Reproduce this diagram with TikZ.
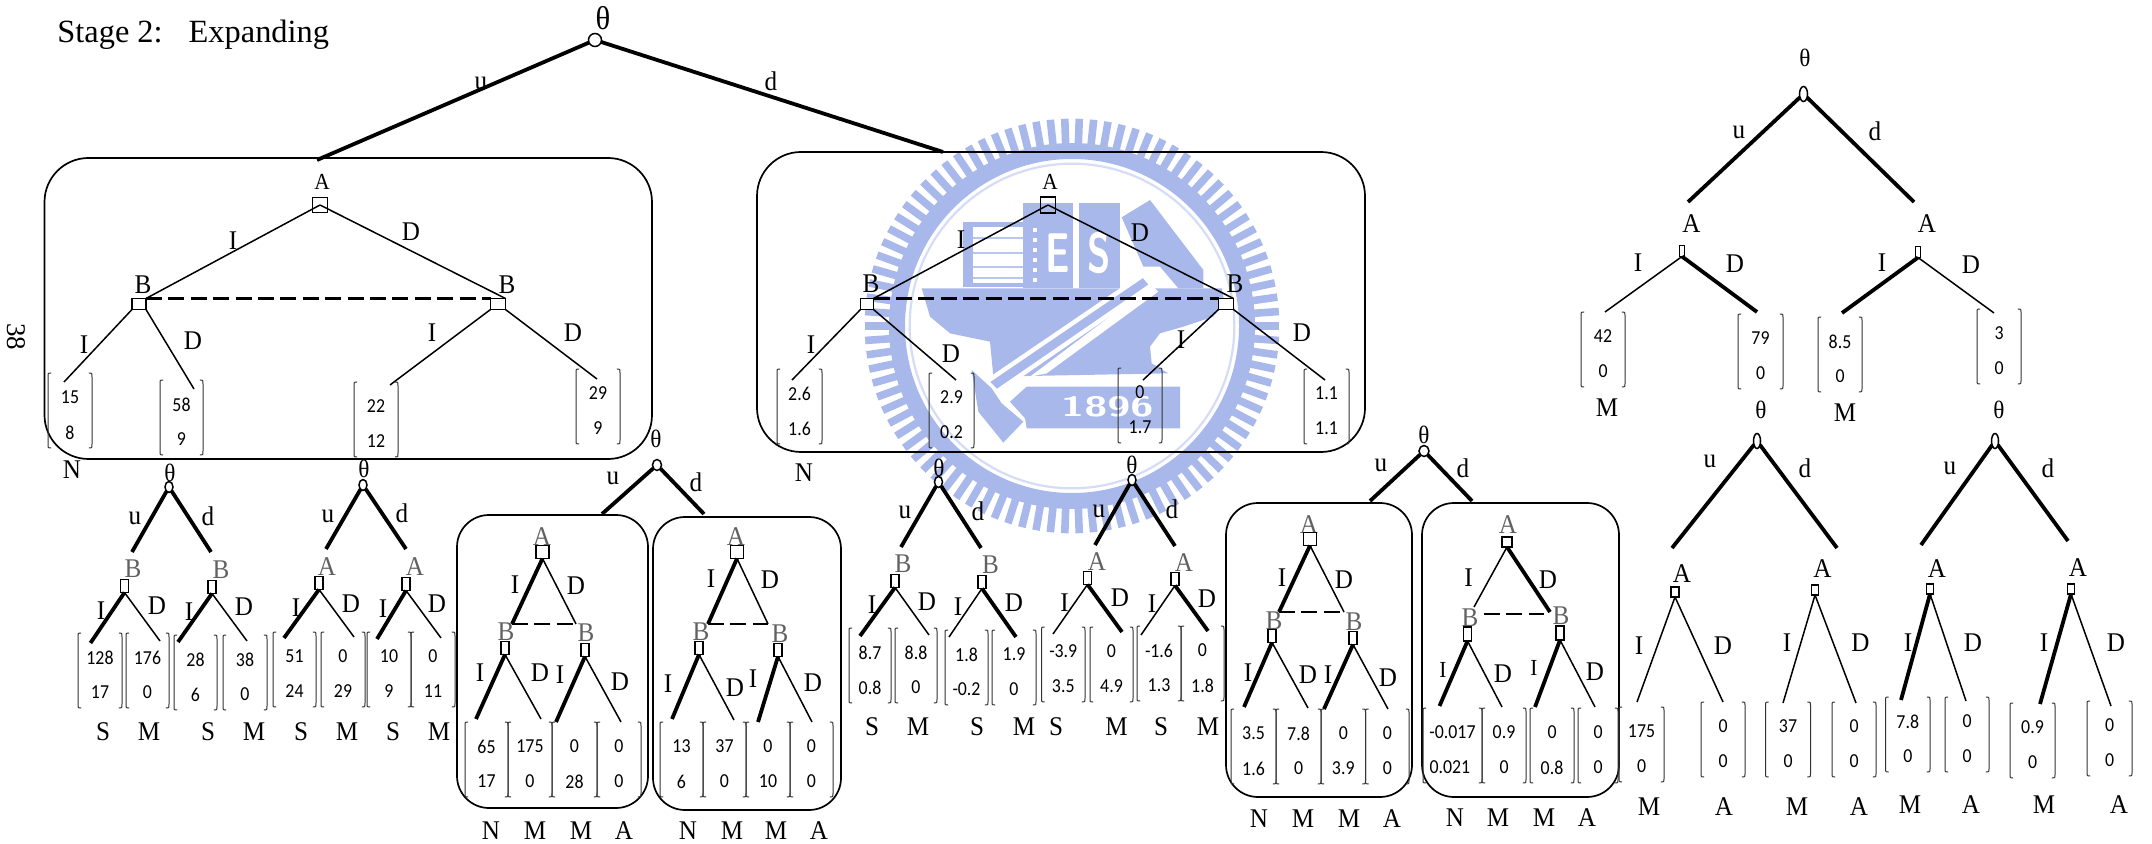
\documentclass[tikz,border=0pt]{standalone}
\usepackage{fontspec}
\setmainfont{Liberation Serif}
\newfontfamily\numfont{Carlito}
\usetikzlibrary{shapes.geometric}
\definecolor{wm}{HTML}{A9B8EA}
\definecolor{wmpale}{HTML}{D5DCF5}
\tikzset{
 lbl/.style={inner sep=0pt,font=\fontsize{13.5}{13.5}\selectfont},
 glbl/.style={lbl,text=black!62},
 smlbl/.style={inner sep=0pt,font=\fontsize{11.5}{11.5}\selectfont},
 thl/.style={inner sep=0pt,font=\fontsize{16.5}{16.5}\selectfont},
 sthl/.style={inner sep=0pt,font=\fontsize{12.5}{12.5}\selectfont},
 stage/.style={inner sep=0pt,anchor=base west,font=\fontsize{16.2}{16.2}\selectfont},
 numl/.style={inner sep=0pt,font=\fontsize{9.9}{9.9}\selectfont\numfont},
 paybox/.style={inner sep=0pt,outer sep=0pt,rectangle},
 br/.style={draw=black!80,line width=0.5pt},
 thk/.style={line width=1.9pt},
 thn/.style={line width=0.75pt},
 dsh/.style={line width=1.15pt,dash pattern=on 8pt off 3.2pt},
 sqn/.style={draw,line width=0.85pt,rectangle,inner sep=0pt,outer sep=0pt},
 cir/.style={draw,line width=0.75pt,ellipse,inner sep=0pt,outer sep=0pt,fill=white},
 panel/.style={draw,line width=0.85pt,rounded corners=#1,inner sep=0pt,rectangle},
 seal/.style={fill=wm,draw=none},
 sealtxt/.style={inner sep=0pt,text=white,font=\sffamily\bfseries},
}
\newcount\nn
\newcommand\Lb[4][lbl]{\global\advance\nn by 1 \node[#1] (t\the\nn) at (#2,#3) {\scalebox{.93}[1]{#4}};}
\newcommand\Sq[6][]{\node[sqn,#6,minimum width={#4*0.5pt},minimum height={#5*0.5pt}] (#1) at (#2,#3) {};}
\newcommand\Ci[5]{\node[cir,minimum width={#4*0.5pt},minimum height={#5*0.5pt}] (#1) at (#2,#3) {};}
\newcommand\Ed[4][thn]{\global\advance\nn by 1 \coordinate (e\the\nn) at (#3,#4); \draw[#1] (#2) -- (e\the\nn);}
\newcommand\Pay[6]{%
 \node[paybox,minimum width={(#3-#2)*0.5pt},minimum height=37.5pt] (#1) at ({(#2+#3)/2},{#4+37.5}) {};
 \node[numl] (#1-a) at ({(#2+#3)/2},{#4+24.5}) {\scalebox{.9}[1]{#5}};
 \node[numl] (#1-b) at ({(#2+#3)/2},{#4+59.5}) {\scalebox{.9}[1]{#6}};
 \draw[br] ([xshift=1.6pt]#1.north west) .. controls (#1.north west) .. ([yshift=-2pt]#1.north west) -- ([yshift=2pt]#1.south west) .. controls (#1.south west) .. ([xshift=1.6pt]#1.south west);
 \draw[br] ([xshift=-1.6pt]#1.north east) .. controls (#1.north east) .. ([yshift=-2pt]#1.north east) -- ([yshift=2pt]#1.south east) .. controls (#1.south east) .. ([xshift=-1.6pt]#1.south east);
}
\newcommand\Panel[6]{\node[panel=#6,minimum width={(#4-#2)*0.5pt},minimum height={(#5-#3)*0.5pt}] (#1) at ({(#2+#4)/2},{(#3+#5)/2}) {};}
\begin{document}
\begin{tikzpicture}[x=0.5pt,y=-0.5pt]
\useasboundingbox (0,0) rectangle (2152,844);
% ---------- watermark seal (coordinates: 3x crop at 850,110)
\begin{scope}[x=0.16667pt,y=-0.16667pt,shift={(425pt,-55pt)}]
 \foreach \a in {0,4,...,356} {\draw[wm,line width=3.8pt] (666,648) ++(\a:530) -- ++(\a:92);}
 \draw[wm,line width=8pt] (666,648) circle [radius=525];
 \draw[wmpale,line width=1.1pt] (666,648) circle [radius=487];
 % books and blocks
 \fill[wm] (340,335) rectangle (520,530);
 \fill[white] (370,350) rectangle (520,520);
 \foreach \y in {385,430,470,505} {\draw[wm!80!white,line width=1.1pt] (370,\y) -- (520,\y);}
 \fill[wm] (520,280) rectangle (670,535);
 \foreach \y in {355,385,...,525} {\fill[white] (550,\y) rectangle (562,\y+12);}
 \fill[wm] (688,280) rectangle (810,535);
 \node[sealtxt,font=\fontsize{28}{28}\selectfont\sffamily\bfseries] (wmE) at (622,430) {\scalebox{.68}[1]{E}};
 \node[sealtxt,font=\fontsize{28}{28}\selectfont\sffamily\bfseries] (wmS) at (748,430) {\scalebox{.68}[1]{S}};
 % pencil head
 \fill[wm] (815,322) -- (900,270) -- (1060,480) -- (1060,535) -- (985,535) -- (930,470) -- (880,470) -- cycle;
 % hull
 \fill[wm] (215,535) -- (1115,535) -- (1122,570) -- (1090,620) -- (1000,650) -- (930,670) -- (900,710) -- (905,760) -- (955,790) -- (430,800) -- (420,695) -- (300,670) -- (240,620) -- cycle;
 % diagonal band with white outline
 \fill[seal,draw=white,line width=2.2pt] (880,495) -- (905,525) -- (440,845) -- (410,815) -- cycle;
 \fill[white] (905,525) -- (925,545) -- (590,790) -- (540,800) -- cycle;
 \fill[wm] (365,780) -- (425,835) -- (455,880) -- (520,935) -- (460,998) -- (385,905) -- cycle;
 % plaque
 \fill[wm] (530,830) -- (990,830) -- (990,955) -- (530,955) -- (525,925) -- (480,875) -- cycle;
 \node[sealtxt,font=\fontsize{14}{14}\selectfont\sffamily\bfseries] (wmY) at (772,890) {\scalebox{1.5}[1]{1896}};
\end{scope}
% ---------- title
\node[stage] (title) at (57,43) {Stage 2:\hspace{13pt}Expanding};
\node[inner sep=0pt,rotate=-90,font=\fontsize{13.5}{13.5}\selectfont] (pg) at (16,337) {38};
% ---------- main tree
\Lb[thl]{603}{18}{θ}
\Ci{root}{595}{40}{13}{13}
\Ed[thk]{root}{317}{160}
\Ed[thk]{root}{943}{152}
\Lb{481}{83}{u}\Lb{771}{81}{d}
% left panel
\Panel{pa}{44.5}{158}{652}{459}{22pt}
\Lb[smlbl]{322}{182}{A}
\Sq[aA]{320}{205}{15}{15}{}
\Lb{143}{285}{B}\Lb{507}{285}{B}
\Sq[aBl]{139}{304}{14}{11}{fill=white}
\Sq[aBr]{498}{304}{15}{11}{fill=white}
\draw[thn] (aA.center) -- (aBl.north east);
\draw[thn] (aA.center) -- (aBr.north east);
\draw[dsh] (aBl.north east) -- (aBr.north west);
\Lb{233}{241}{I}\Lb{411}{232}{D}
\Ed{aBl.south west}{64}{382}
\Ed{aBl.south east}{194}{389}
\Ed{aBr.south west}{390}{385}
\Ed{aBr.south east}{597}{379}
\Lb{84}{345}{I}\Lb{193}{341}{D}\Lb{432}{333}{I}\Lb{573}{333}{D}
\Pay{pa1}{48}{92}{373}{15}{8}
\Pay{pa2}{160}{203}{380}{58}{9}
\Pay{pa3}{354}{398}{382}{22}{12}
\Pay{pa4}{576}{620}{369}{29}{9}
\Lb{72}{470}{N}
% right panel
\Panel{pb}{757}{152}{1365}{452}{22pt}
\Lb[smlbl]{1050}{182}{A}
\Sq[bA]{1048}{205}{15}{16}{}
\Lb{871}{284}{B}\Lb{1235}{284}{B}
\Sq[bBl]{867}{304}{13}{11}{fill=white}
\Sq[bBr]{1226}{304}{15}{11}{fill=white}
\draw[thn] (bA.center) -- (bBl.north east);
\draw[thn] (bA.center) -- (bBr.north east);
\draw[dsh] (bBl.north east) -- (bBr.north west);
\Lb{961}{240}{I}\Lb{1140}{233}{D}
\Ed{bBl.south west}{792}{380}
\Ed{bBl.south east}{956}{380}
\Ed{bBr.south west}{1143}{380}
\Ed{bBr.south east}{1325}{380}
\Lb{811}{345}{I}\Lb{951}{354}{D}\Lb{1181}{340}{I}\Lb{1302}{333}{D}
\Pay{pb1}{777}{822}{369}{2.6}{1.6}
\Pay{pb2}{929}{974}{373}{2.9}{0.2}
\Pay{pb3}{1118}{1162}{368}{0}{1.7}
\Pay{pb4}{1304}{1349}{369}{1.1}{1.1}
\Lb{804}{473}{N}
% ---------- small tree 1
\Lb[sthl]{170}{473}{θ}
\Ci{c1}{169}{487}{8}{11}
\Ed[thk]{c1}{132}{552}\Ed[thk]{c1}{211}{552}
\Lb{135}{518}{u}\Lb{208}{516}{d}
\Lb[glbl]{133}{569}{B}\Lb[glbl]{221}{570}{B}
\Sq[c1a]{124.5}{586}{8}{13}{}\Sq[c1b]{212}{587}{8}{13}{}
\Ed[thk]{c1a.south}{90.5}{643}\Ed{c1a.south}{160}{641}
\Ed[thk]{c1b.south}{178}{642}\Ed{c1b.south}{247}{641}
\Lb{101}{611}{I}\Lb{157}{606}{D}\Lb{189}{612}{I}\Lb{244}{607}{D}
\Pay{q1}{78}{122}{633}{128}{17}
\Pay{q2}{126}{169}{633}{176}{0}
\Pay{q3}{174}{217}{635}{28}{6}
\Pay{q4}{223}{267}{635}{38}{0}
\Lb{103}{732}{S}\Lb{149}{732}{M}\Lb{208}{732}{S}\Lb{254}{732}{M}
% small tree 2
\Lb[sthl]{364}{469}{θ}
\Ci{c2}{363}{485}{8}{11}
\Ed[thk]{c2}{326}{549}\Ed[thk]{c2}{406}{549}
\Lb{328}{516}{u}\Lb{402}{513}{d}
\Lb[glbl]{327}{567}{A}\Lb[glbl]{415}{567}{A}
\Sq[c2a]{319}{583}{8}{13}{}\Sq[c2b]{406}{584}{8}{13}{}
\Ed[thk]{c2a.south}{284}{638}\Ed{c2a.south}{354}{637}
\Ed[thk]{c2b.south}{377}{639}\Ed{c2b.south}{441}{638}
\Lb{296}{608}{I}\Lb{351}{604}{D}\Lb{383}{609}{I}\Lb{437}{604}{D}
\Pay{q5}{273}{316}{632}{51}{24}
\Pay{q6}{321}{365}{632}{0}{29}
\Pay{q7}{367}{411}{632}{10}{9}
\Pay{q8}{411}{455}{632}{0}{11}
\Lb{301}{732}{S}\Lb{347}{732}{M}\Lb{393}{732}{S}\Lb{439}{732}{M}
% ---------- tree 3 with panels
\Lb[sthl]{656}{439}{θ}
\Ci{c3}{657}{465}{9}{11}
\Ed[thk]{c3}{602}{514}\Ed[thk]{c3}{704}{514}
\Lb{613}{478}{u}\Lb{696}{482}{d}
\Panel{pc}{457}{515}{648}{808}{16pt}
\Panel{pd}{653}{517}{841}{810}{16pt}
\Lb[glbl]{542}{537}{A}\Sq[c3A]{542.5}{552}{13}{13}{}
\coordinate (c3l) at (512,624);\coordinate (c3r) at (576,624);
\draw[thk] (c3A.south) -- (c3l);\draw[thn] (c3A.south) -- (c3r);\draw[dsh] (c3l) -- (c3r);
\Lb{515}{585}{I}\Lb{576}{586}{D}
\Lb[glbl]{506}{632}{B}\Lb[glbl]{586}{633}{B}
\Sq[c3a]{505}{648}{8}{13}{}\Sq[c3b]{585}{650}{8}{13}{}
\Ed[thk]{c3a.south}{476}{719}\Ed{c3a.south}{541}{719}
\Ed[thk]{c3b.south}{556}{722}\Ed{c3b.south}{621}{722}
\Lb{480}{673}{I}\Lb{540}{673}{D}\Lb{560}{675}{I}\Lb{620}{682}{D}
\Pay{r1}{465}{508}{722}{65}{17}
\Pay{r2}{508}{552}{722}{175}{0}
\Pay{r3}{552}{597}{722}{0}{28}
\Pay{r4}{597}{641}{722}{0}{0}
\Lb{491}{831}{N}\Lb{535}{831}{M}\Lb{581}{831}{M}\Lb{624}{831}{A}
\Lb[glbl]{736}{537}{A}\Sq[c4A]{737}{552}{13}{13}{}
\coordinate (c4l) at (708,624);\coordinate (c4r) at (768,624);
\draw[thk] (c4A.south) -- (c4l);\draw[thn] (c4A.south) -- (c4r);\draw[dsh] (c4l) -- (c4r);
\Lb{711}{579}{I}\Lb{770}{580}{D}
\Lb[glbl]{701}{632}{B}\Lb[glbl]{780}{634}{B}
\Sq[c4a]{699}{648}{8}{13}{}\Sq[c4b]{778}{650}{8}{13}{}
\Ed[thk]{c4a.south}{672}{719}\Ed{c4a.south}{734}{720}
\Ed[thk]{c4b.south}{758}{722}\Ed{c4b.south}{812}{722}
\Lb{668}{684}{I}\Lb{735}{688}{D}\Lb{753}{679}{I}\Lb{813}{683}{D}
\Pay{r5}{660}{703}{722}{13}{6}
\Pay{r6}{703}{746}{722}{37}{0}
\Pay{r7}{746}{790}{722}{0}{10}
\Pay{r8}{790}{833}{722}{0}{0}
\Lb{688}{831}{N}\Lb{732}{831}{M}\Lb{776}{831}{M}\Lb{819}{831}{A}
% ---------- small tree 5
\Lb[sthl]{939}{468}{θ}
\Ci{c5}{938.5}{482}{8}{11}
\Ed[thk]{c5}{901}{547}\Ed[thk]{c5}{981}{548}
\Lb{905}{512}{u}\Lb{978}{511}{d}
\Lb[glbl]{903}{564}{B}\Lb[glbl]{990.5}{565}{B}
\Sq[c5a]{895}{581}{8}{13}{}\Sq[c5b]{982}{582}{8}{13}{}
\Ed[thk]{c5a.south}{860}{636}\Ed{c5a.south}{929}{635}
\Ed{c5b.south}{949}{637}\Ed[thk]{c5b.south}{1016}{637}
\Lb{872}{605}{I}\Lb{927}{602}{D}\Lb{958}{607}{I}\Lb{1014}{603}{D}
\Pay{s1}{849}{891}{628}{8.7}{0.8}
\Pay{s2}{895}{937}{628}{8.8}{0}
\Pay{s3}{945}{988}{630}{1.8}{-0.2}
\Pay{s4}{992}{1036}{630}{1.9}{0}
\Lb{872}{727}{S}\Lb{918}{727}{M}\Lb{977}{727}{S}\Lb{1024}{727}{M}
% small tree 6
\Lb[sthl]{1132}{465}{θ}
\Ci{c6}{1132}{480}{8}{11}
\Ed[thk]{c6}{1095}{545}\Ed[thk]{c6}{1175}{546}
\Lb{1099}{511}{u}\Lb{1172}{509}{d}
\Lb[glbl]{1097}{562}{A}\Lb[glbl]{1184}{563}{A}
\Sq[c6a]{1087.5}{578}{8}{13}{}\Sq[c6b]{1175}{579}{8}{13}{}
\Ed{c6a.south}{1053}{634}\Ed[thk]{c6a.south}{1122}{632}
\Ed{c6b.south}{1141}{635}\Ed[thk]{c6b.south}{1208}{631}
\Lb{1064.5}{603}{I}\Lb{1120}{598}{D}\Lb{1152}{604}{I}\Lb{1207}{599}{D}
\Pay{s5}{1041.5}{1085}{627}{-3.9}{3.5}
\Pay{s6}{1090}{1133}{627}{0}{4.9}
\Pay{s7}{1137}{1181}{626}{-1.6}{1.3}
\Pay{s8}{1181}{1224}{626}{0}{1.8}
\Lb{1056}{727}{S}\Lb{1116.5}{727}{M}\Lb{1161}{727}{S}\Lb{1208}{727}{M}
% ---------- tree 7 with panels
\Lb[sthl]{1424}{435}{θ}
\Ci{c7}{1424}{451}{10}{11}
\Ed[thk]{c7}{1370}{501}\Ed[thk]{c7}{1472}{501}
\Lb{1381}{465}{u}\Lb{1463}{468}{d}
\Panel{pe}{1226}{503}{1412}{797}{16pt}
\Panel{pf}{1422}{503}{1619}{797}{16pt}
\Lb[glbl]{1309}{525}{A}\Sq[c7A]{1310}{539}{13}{13}{}
\coordinate (c7l) at (1279,612);\coordinate (c7r) at (1344,612);
\draw[thk] (c7A.south) -- (c7l);\draw[thn] (c7A.south) -- (c7r);\draw[dsh] (c7l) -- (c7r);
\Lb{1282}{578}{I}\Lb{1344}{580}{D}
\Lb[glbl]{1274}{621}{B}\Lb[glbl]{1354}{622}{B}
\Sq[c7a]{1272}{636}{8}{13}{}\Sq[c7b]{1353}{638}{8}{13}{}
\Ed[thk]{c7a.south}{1244}{707}\Ed{c7a.south}{1308}{708}
\Ed[thk]{c7b.south}{1324}{709}\Ed{c7b.south}{1388}{709}
\Lb{1248}{673}{I}\Lb{1308}{675}{D}\Lb{1328}{675}{I}\Lb{1388}{678}{D}
\Pay{u1}{1231}{1276}{709}{3.5}{1.6}
\Pay{u2}{1276}{1321}{709}{7.8}{0}
\Pay{u3}{1321}{1365.5}{709}{0}{3.9}
\Pay{u4}{1365.5}{1409}{709}{0}{0}
\Lb{1259}{819}{N}\Lb{1303}{819}{M}\Lb{1349}{819}{M}\Lb{1392}{819}{A}
\Lb[glbl]{1508}{525}{A}\Sq[c8A]{1507}{542}{10}{10}{}
\Ed{c8A.south}{1474}{607}
\Ed[thk]{c8A.south}{1550}{612}
\coordinate (c8l) at (1484,614);\coordinate (c8r) at (1544,614);
\draw[dsh] (c8l) -- (c8r);
\Lb{1468.5}{578}{I}\Lb{1548}{580}{D}
\Lb[glbl]{1470}{618}{B}\Lb[glbl]{1561}{616}{B}
\Sq[c8a]{1467.5}{634}{8}{14}{}\Sq[c8b]{1560}{633}{8}{14}{}
\Ed[thk]{c8a.south}{1439.5}{706}\Ed{c8a.south}{1502}{707}
\Ed[thk]{c8b.south}{1535}{707}\Ed{c8b.south}{1595}{707}
\Lb[smlbl]{1443}{670}{I}\Lb{1503}{674}{D}\Lb[smlbl]{1534}{668}{I}\Lb{1595}{672}{D}
\Pay{u5}{1423}{1482}{708}{-0.017}{0.021\kern3pt}
\Pay{u6}{1482}{1526}{708}{0.9}{0}
\Pay{u7}{1530}{1574}{708}{0}{0.8}
\Pay{u8}{1578}{1618}{708}{0}{0}
\Lb{1455}{818}{N}\Lb{1498}{818}{M}\Lb{1544}{818}{M}\Lb{1587}{818}{A}
% ---------- right top tree
\Lb[sthl]{1805}{58}{θ}
\Ci{d0}{1803.5}{94}{8}{15}
\Ed[thk]{d0}{1688}{202}\Ed[thk]{d0}{1914}{202}
\Lb{1739}{132}{u}\Lb{1875}{131}{d}
\Lb{1691.5}{224}{A}\Lb{1927}{224}{A}
\Sq[d0a]{1682}{251}{5}{11}{}\Sq[d0b]{1918}{252}{5}{11}{}
\Ed{d0a.south}{1605}{312}\Ed[thk]{d0a.south}{1757}{312}
\Ed[thk]{d0b.south}{1842}{313}\Ed{d0b.south}{1994}{313}
\Lb{1638}{263}{I}\Lb{1735}{264}{D}\Lb{1882}{263}{I}\Lb{1971}{265}{D}
\Pay{v1}{1581}{1625}{312}{42}{0}
\Pay{v2}{1738}{1783}{314}{79}{0}
\Pay{v3}{1818}{1862}{317}{8.5}{0}
\Pay{v4}{1977}{2021}{309}{3}{0}
\Lb{1607}{408}{M}\Lb{1845}{413}{M}
% right lower trees
\Lb[sthl]{1761}{410}{θ}\Lb[sthl]{1999}{410}{θ}
\Ci{d1}{1757}{441}{7}{15}
\Ci{d2}{1995}{441}{7}{15}
\Ed[thk]{d1}{1672}{548}\Ed[thk]{d1}{1837}{548}
\Ed[thk]{d2}{1921}{545}\Ed[thk]{d2}{2068}{541}
\Lb{1710}{461}{u}\Lb{1805}{468}{d}\Lb{1950}{468}{u}\Lb{2048}{468}{d}
\Lb{1682}{574}{A}\Lb{1822.5}{569}{A}\Lb{1937}{569}{A}\Lb{2078}{568}{A}
\Sq[d1a]{1675}{592}{8}{10}{}\Sq[d1b]{1815}{590}{7}{10}{}
\Sq[d2a]{1930}{589}{7}{10}{}\Sq[d2b]{2071}{589}{7}{10}{}
\Ed{d1a.south}{1637}{702}\Ed{d1a.south}{1723}{702}
\Ed{d1b.south}{1783}{703}\Ed{d1b.south}{1856}{703}
\Ed[thk]{d2a.south}{1901}{700}\Ed{d2a.south}{1966}{701}
\Ed[thk]{d2b.south}{2040}{704}\Ed{d2b.south}{2111}{706}
\Lb{1639}{646}{I}\Lb{1723}{646}{D}\Lb{1787}{643}{I}\Lb{1860.5}{643}{D}
\Lb{1908}{643}{I}\Lb{1973}{643}{D}\Lb{2044}{643}{I}\Lb{2116}{643}{D}
\Pay{w1}{1619}{1664}{707}{175}{0}
\Pay{w2}{1701}{1745}{702}{0}{0}
\Pay{w3}{1765.5}{1810.5}{702}{37}{0}
\Pay{w4}{1832}{1876}{702}{0}{0}
\Pay{w5}{1885.5}{1930}{697}{7.8}{0}
\Pay{w6}{1945}{1989}{697}{0}{0}
\Pay{w7}{2010}{2055}{703}{0.9}{0}
\Pay{w8}{2087}{2132}{701}{0}{0}
\Lb{1649}{807}{M}\Lb{1724}{807}{A}\Lb{1797}{807}{M}\Lb{1859}{807}{A}
\Lb{1910}{805}{M}\Lb{1971}{805}{A}\Lb{2044}{805}{M}\Lb{2119}{805}{A}
\end{tikzpicture}
\end{document}
